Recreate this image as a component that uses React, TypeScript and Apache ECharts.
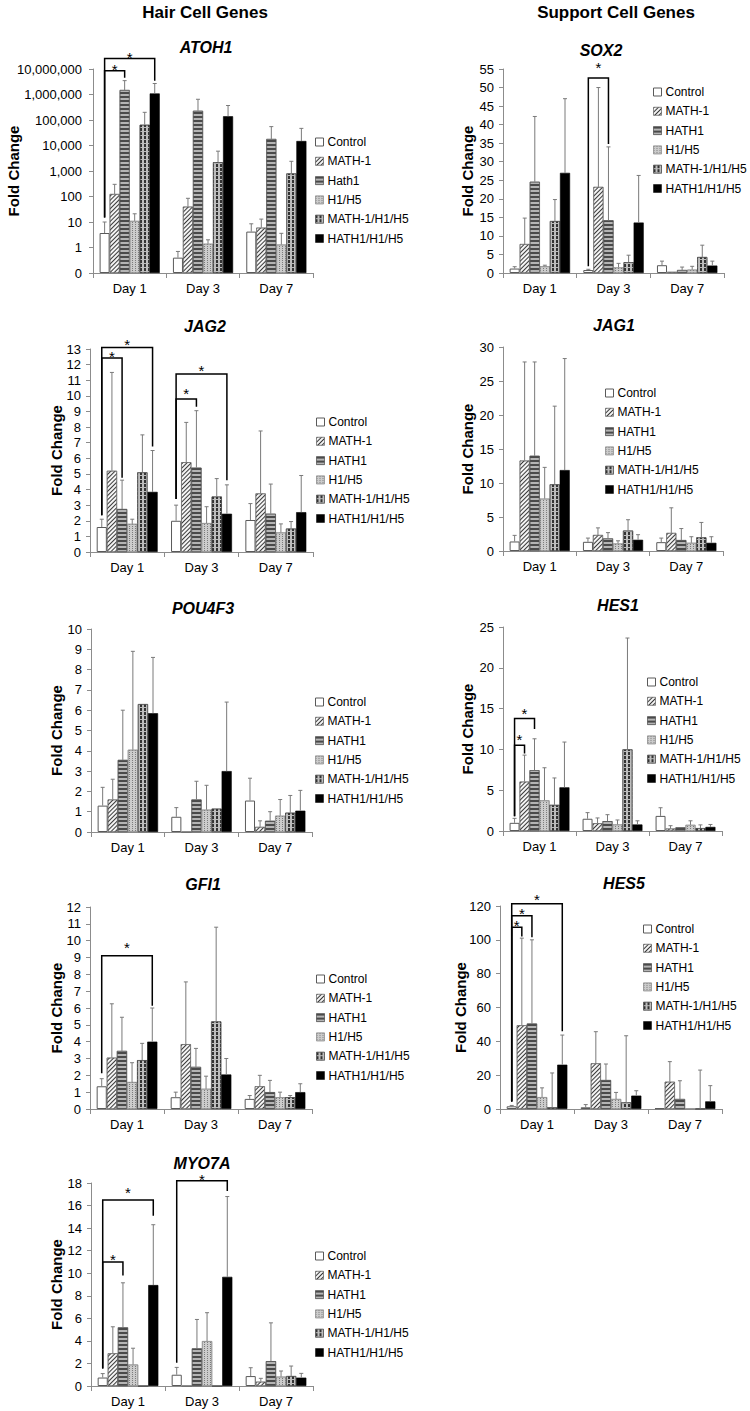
import React, { useEffect, useRef } from 'react';
import * as echarts from 'echarts';

const FONT = 'Liberation Sans, Arial, Helvetica, sans-serif';

const days = ['Day 1', 'Day 3', 'Day 7'];
const groups = ['Control', 'MATH-1', 'HATH1', 'H1/H5', 'MATH-1/H1/H5', 'HATH1/H1/H5'];
const atoh1Groups = ['Control', 'MATH-1', 'Hath1', 'H1/H5', 'MATH-1/H1/H5', 'HATH1/H1/H5'];
const columnTitles = ['Hair Cell Genes', 'Support Cell Genes'];
const yName = 'Fold Change';

// rows = groups (Control ... HATH1/H1/H5), columns = Day 1, Day 3, Day 7
const atoh1Mean = [
  [3.7, 0.4, 4.2],
  [125, 40, 6],
  [1500000, 230000, 18000],
  [11, 1.4, 1.3],
  [65000, 2200, 800],
  [1100000, 140000, 15000],
];
const atoh1Upper = [
  [10, 0.7, 8.5],
  [300, 85, 13],
  [3500000, 650000, 55000],
  [21, 2.0, 3.6],
  [200000, 6000, 2400],
  [2700000, 370000, 47000],
];
// [day, fromGroup, toGroup, bracketValue, leftLegEnd, rightLegEnd, starValue]
const atoh1Sig = [
  [0, 0, 2, 8600000, 15, 4500000, 13500000],
  [0, 0, 5, 26000000, 15, 3500000, 41000000],
];

const sox2Mean = [
  [1.2, 0.8, 2.1],
  [7.8, 23.2, 0.3],
  [24.6, 14.2, 0.8],
  [1.8, 1.5, 0.9],
  [14, 2.9, 4.3],
  [27, 13.6, 2.0],
];
const sox2Upper = [
  [1.7, 1.0, 3.2],
  [14.8, 50, 0.3],
  [42.2, 34, 1.6],
  [2.1, 2.6, 1.8],
  [19.8, 4.8, 7.5],
  [47, 26.3, 3.2],
];
const sox2Sig = [[1, 0, 2, 52.6, 1.8, 34.8, 56.5]];

const jag2Mean = [
  [1.6, 2.0, 2.05],
  [5.2, 5.75, 3.75],
  [2.75, 5.4, 2.45],
  [1.8, 1.85, 1.25],
  [5.1, 3.55, 1.5],
  [3.85, 2.45, 2.55],
];
const jag2Upper = [
  [2.1, 3.0, 3.1],
  [11.5, 8.3, 7.75],
  [4.6, 9.05, 4.35],
  [2.1, 2.9, 1.8],
  [7.5, 4.7, 1.95],
  [6.5, 4.3, 4.9],
];
const jag2Sig = [
  [0, 0, 2, 12.42, 2.35, 4.75, 12.8],
  [0, 0, 5, 13.1, 2.35, 6.75, 13.55],
  [1, 0, 2, 9.8, 3.4, 9.3, 10.4],
  [1, 0, 5, 11.4, 3.4, 4.6, 11.9],
];

const jag1Mean = [
  [1.4, 1.35, 1.3],
  [13.3, 2.35, 2.65],
  [14, 1.85, 1.6],
  [7.7, 1.1, 1.2],
  [9.8, 3.0, 2.0],
  [11.9, 1.65, 1.2],
];
const jag1Upper = [
  [2.3, 1.9, 1.9],
  [27.8, 3.4, 6.35],
  [27.8, 2.7, 3.3],
  [12.3, 1.5, 2.1],
  [21.3, 4.6, 4.2],
  [28.3, 2.4, 2.1],
];

const pou4f3Mean = [
  [1.3, 0.75, 1.55],
  [1.6, 0, 0.25],
  [3.55, 1.6, 0.55],
  [4.05, 1.1, 0.8],
  [6.3, 1.15, 0.95],
  [5.85, 3.0, 1.05],
];
const pou4f3Upper = [
  [2.2, 1.2, 2.65],
  [2.6, 0, 0.55],
  [6.0, 2.5, 1.0],
  [8.9, 2.3, 1.6],
  [6.3, 1.15, 1.8],
  [8.6, 6.4, 2.05],
];

const hes1Mean = [
  [1.0, 1.5, 1.85],
  [6.05, 0.95, 0.3],
  [7.45, 1.2, 0.45],
  [3.75, 0.8, 0.75],
  [3.2, 10, 0.35],
  [5.35, 0.8, 0.5],
];
const hes1Upper = [
  [1.55, 2.25, 2.85],
  [9.3, 1.6, 0.65],
  [11.3, 2.0, 0.45],
  [7.75, 1.35, 1.25],
  [6.5, 23.65, 0.75],
  [10.9, 1.25, 0.8],
];
const hes1Sig = [
  [0, 0, 1, 10.5, 1.8, 9.5, 11.7],
  [0, 0, 2, 13.8, 1.8, 12.5, 14.9],
];

const gfi1Mean = [
  [1.35, 0.7, 0.6],
  [3.05, 3.85, 1.35],
  [3.45, 2.5, 1.0],
  [1.6, 1.2, 0.7],
  [2.9, 5.2, 0.7],
  [4.0, 2.05, 1.0],
];
const gfi1Upper = [
  [1.8, 1.0, 0.8],
  [6.25, 7.55, 2.0],
  [5.45, 3.6, 1.7],
  [2.75, 1.95, 1.0],
  [3.9, 10.8, 0.8],
  [6.0, 3.0, 1.5],
];
const gfi1Sig = [[0, 0, 5, 9.1, 2.13, 6.14, 9.83]];

const hes5Mean = [
  [1.6, 1.0, 0.4],
  [49.5, 27, 16.1],
  [50.5, 17.1, 5.9],
  [7, 5.9, 0.2],
  [1.0, 3.9, 0.2],
  [26.2, 7.9, 4.5],
];
const hes5Upper = [
  [2.1, 2.6, 0.4],
  [101, 45.7, 28],
  [100, 26.6, 16.7],
  [12.5, 9.8, 0.2],
  [21.3, 43.3, 23],
  [43.7, 10.8, 13.8],
];
const hes5Sig = [
  [0, 0, 1, 107.5, 4.5, 102, 110.8],
  [0, 0, 2, 114.2, 4.5, 101.5, 117.7],
  [0, 0, 5, 121.3, 4.5, 45.9, 126],
];

const myo7aMean = [
  [0.75, 1.0, 0.88],
  [2.9, 0, 0.38],
  [5.2, 3.33, 2.2],
  [1.9, 3.98, 0.83],
  [0, 0, 0.88],
  [8.95, 9.68, 0.74],
];
const myo7aUpper = [
  [1.1, 1.65, 1.62],
  [5.25, 0, 0.68],
  [9.15, 5.9, 5.6],
  [3.35, 6.5, 1.33],
  [0, 0, 1.77],
  [14.3, 16.8, 1.12],
];
const myo7aSig = [
  [0, 0, 2, 11.0, 1.56, 9.8, 11.6],
  [0, 0, 5, 16.5, 1.56, 15.1, 17.5],
  [1, 0, 5, 18.2, 2.06, 17.3, 18.7],
];

type Panel = {
  gene: string;
  names: string[];
  mean: number[][];
  upper: number[][];
  sig: number[][];
  log?: boolean;
  max: number;
  interval: number;
  grid: { left: number; top: number; width: number; height: number };
  titlePos: [number, number];
  nameGap: number;
  labelMargin: number;
  legendPos: [number, number];
};

const panels: Panel[] = [
  { gene: 'ATOH1', names: atoh1Groups, mean: atoh1Mean, upper: atoh1Upper, sig: atoh1Sig, log: true, max: 10000000, interval: 1,
    grid: { left: 93, top: 69, width: 220, height: 204 }, titlePos: [206, 47], nameGap: 72, labelMargin: 11, legendPos: [315, 135] },
  { gene: 'SOX2', names: groups, mean: sox2Mean, upper: sox2Upper, sig: sox2Sig, max: 55, interval: 5,
    grid: { left: 503, top: 69, width: 221, height: 204 }, titlePos: [601, 50], nameGap: 28, labelMargin: 9, legendPos: [653, 85] },
  { gene: 'JAG2', names: groups, mean: jag2Mean, upper: jag2Upper, sig: jag2Sig, max: 13, interval: 1,
    grid: { left: 90, top: 349, width: 223, height: 203 }, titlePos: [205, 326], nameGap: 26, labelMargin: 9, legendPos: [316, 415] },
  { gene: 'JAG1', names: groups, mean: jag1Mean, upper: jag1Upper, sig: [], max: 30, interval: 5,
    grid: { left: 503, top: 347, width: 220, height: 204 }, titlePos: [614, 325], nameGap: 28, labelMargin: 9, legendPos: [605, 386] },
  { gene: 'POU4F3', names: groups, mean: pou4f3Mean, upper: pou4f3Upper, sig: [], max: 10, interval: 1,
    grid: { left: 91, top: 629, width: 221, height: 203 }, titlePos: [203, 608], nameGap: 27, labelMargin: 9, legendPos: [315, 695] },
  { gene: 'HES1', names: groups, mean: hes1Mean, upper: hes1Upper, sig: hes1Sig, max: 25, interval: 5,
    grid: { left: 503, top: 627, width: 219, height: 204 }, titlePos: [618, 605], nameGap: 28, labelMargin: 9, legendPos: [647, 675] },
  { gene: 'GFI1', names: groups, mean: gfi1Mean, upper: gfi1Upper, sig: gfi1Sig, max: 12, interval: 1,
    grid: { left: 90, top: 907, width: 222, height: 202 }, titlePos: [203, 884], nameGap: 26, labelMargin: 9, legendPos: [316, 972] },
  { gene: 'HES5', names: groups, mean: hes5Mean, upper: hes5Upper, sig: hes5Sig, max: 120, interval: 20,
    grid: { left: 500, top: 906, width: 222, height: 203 }, titlePos: [624, 883], nameGap: 32, labelMargin: 9, legendPos: [643, 922] },
  { gene: 'MYO7A', names: groups, mean: myo7aMean, upper: myo7aUpper, sig: myo7aSig, max: 18, interval: 2,
    grid: { left: 91, top: 1183, width: 222, height: 203 }, titlePos: [202, 1163], nameGap: 27, labelMargin: 9, legendPos: [315, 1249] },
];

const CAT_GAP = 0.18;
const N_GROUPS = 6;

const barStyles: any[] = [
  { color: '#ffffff', borderColor: '#5a5a5a', borderWidth: 1 },
  { color: '#f4f4f4', borderColor: '#6a6a6a', borderWidth: 0.6,
    decal: { symbol: 'rect', symbolSize: 1, color: '#3a3a3a', dashArrayX: [1, 0], dashArrayY: [1, 2], rotation: -Math.PI / 4 } },
  { color: '#b4b4b4', borderColor: '#555555', borderWidth: 0.6,
    decal: { symbol: 'rect', symbolSize: 1, color: '#4a4a4a', dashArrayX: [1, 0], dashArrayY: [2, 2] } },
  { color: '#cccccc', borderColor: '#8a8a8a', borderWidth: 0.6,
    decal: { symbol: 'rect', symbolSize: 1, color: '#7c7c7c', dashArrayX: [1, 2], dashArrayY: [1, 1] } },
  { color: '#bdbdbd', borderColor: '#4a4a4a', borderWidth: 0.6,
    decal: { symbol: 'rect', symbolSize: 1, color: '#333333', dashArrayX: [1.2, 1.3], dashArrayY: [3, 1] } },
  { color: '#000000', borderColor: '#000000', borderWidth: 0.6 },
];

function barX(api: any, cat: number, gi: number, v: number) {
  const c0 = api.coord([0, v]);
  const c1 = api.coord([1, v]);
  const band = c1[0] - c0[0];
  const groupW = band * (1 - CAT_GAP);
  const bw = groupW / N_GROUPS;
  const center = c0[0] + band * cat;
  return center - groupW / 2 + (gi + 0.5) * bw;
}

function renderErr(params: any, api: any) {
  const cat = api.value(0);
  const gi = api.value(1);
  const m = api.value(2);
  const up = api.value(3);
  if (!(up > m) || !(m > 0)) return { type: 'group', children: [] };
  const x = barX(api, cat, gi, m);
  const y0 = api.coord([cat, m])[1];
  const y1 = api.coord([cat, up])[1];
  const st = { stroke: '#7a7a7a', lineWidth: 1 };
  return {
    type: 'group',
    children: [
      { type: 'line', shape: { x1: x, y1: y0, x2: x, y2: y1 }, style: st },
      { type: 'line', shape: { x1: x - 2, y1: y1, x2: x + 2, y2: y1 }, style: st },
    ],
  };
}

function renderSig(params: any, api: any) {
  const cat = api.value(0);
  const g0 = api.value(1);
  const g1 = api.value(2);
  const lineV = api.value(3);
  const lb = api.value(4);
  const rb = api.value(5);
  const sv = api.value(6);
  const xl = barX(api, cat, g0, lineV);
  const xr = barX(api, cat, g1, lineV);
  const yl = api.coord([cat, lineV])[1];
  const ylb = api.coord([cat, lb])[1];
  const yrb = api.coord([cat, rb])[1];
  const ys = api.coord([cat, sv])[1];
  return {
    type: 'group',
    children: [
      { type: 'polyline', shape: { points: [[xl, ylb], [xl, yl], [xr, yl], [xr, yrb]] },
        style: { stroke: '#000000', lineWidth: 1.5, fill: 'none' } },
      { type: 'text', x: (xl + xr) / 2, y: ys + 4,
        style: { text: '*', fontSize: 15, fontFamily: FONT, fill: '#000000', align: 'center', verticalAlign: 'middle' } },
    ],
  };
}

function fmtLog(v: number) {
  if (v < 1) return '0';
  return Math.round(v).toString().replace(/\B(?=(\d{3})+(?!\d))/g, ',');
}

function buildOption() {
  const grid: any[] = [];
  const xAxis: any[] = [];
  const yAxis: any[] = [];
  const series: any[] = [];
  const legend: any[] = [];
  const graphic: any[] = [];
  const axisColor = '#8c8c8c';

  graphic.push({ type: 'text', x: 205, y: 12, style: { text: columnTitles[0], fontSize: 17, fontWeight: 'bold', fontFamily: FONT, fill: '#000', align: 'center', verticalAlign: 'middle' } });
  graphic.push({ type: 'text', x: 616, y: 12, style: { text: columnTitles[1], fontSize: 17, fontWeight: 'bold', fontFamily: FONT, fill: '#000', align: 'center', verticalAlign: 'middle' } });

  const order = [1, 0, 2, 3, 4, 5, 6, 7, 8];
  panels.forEach((p, k) => {
    grid.push({ ...p.grid, containLabel: false, outerBoundsMode: 'none' });
    xAxis.push({
      gridIndex: k, type: 'category', data: days,
      axisLine: { show: true, onZero: false, lineStyle: { color: axisColor, width: 1 } },
      axisTick: { show: true, length: 5, lineStyle: { color: axisColor } },
      axisLabel: { color: '#000', fontSize: 13, fontFamily: FONT, margin: 9 },
      splitLine: { show: false },
    });
    const y: any = {
      gridIndex: k,
      name: yName, nameLocation: 'middle', nameGap: p.nameGap, nameRotate: 90, nameMoveOverlap: false,
      nameTextStyle: { fontSize: 15, fontWeight: 'bold', fontFamily: FONT, color: '#000' },
      axisLine: { show: true, lineStyle: { color: axisColor, width: 1 } },
      axisTick: { show: true, length: 4, lineStyle: { color: axisColor } },
      axisLabel: { color: '#000', fontSize: 13, fontFamily: FONT, margin: p.labelMargin },
      splitLine: { show: false },
      max: p.max,
    };
    if (p.log) {
      y.type = 'log';
      y.logBase = 10;
      y.min = 0.1;
      y.startValue = 0.1;
      y.splitNumber = 8;
      y.axisLabel.formatter = (v: number) => fmtLog(v);
    } else {
      y.type = 'value';
      y.min = 0;
      y.interval = p.interval;
    }
    yAxis.push(y);

    graphic.push({ type: 'text', x: p.titlePos[0], y: p.titlePos[1],
      style: { text: p.gene, fontSize: 16, fontWeight: 'bold', fontStyle: 'italic', fontFamily: FONT, fill: '#000', align: 'center', verticalAlign: 'middle' } });

    legend.push({
      show: true, orient: 'vertical', left: p.legendPos[0], top: p.legendPos[1], padding: 0,
      itemWidth: 8, itemHeight: 8, itemGap: 5.3, selectedMode: false, icon: 'rect',
      textStyle: { fontSize: 12, fontFamily: FONT, color: '#000', lineHeight: 14, padding: [0, 0, 0, -1] },
      data: p.names.map((n, i) => ({ name: n, itemStyle: { borderColor: barStyles[i].borderColor, borderWidth: i === 0 ? 1 : 0.5 } })),
    });
  });

  order.forEach((k) => {
    const p = panels[k];
    p.names.forEach((n, i) => {
      series.push({
        type: 'bar', name: n, xAxisIndex: k, yAxisIndex: k,
        data: p.mean[i], barGap: '0%', barCategoryGap: (CAT_GAP * 100) + '%',
        itemStyle: barStyles[i], silent: true, emphasis: { disabled: true },
      });
    });
  });

  panels.forEach((p, k) => {
    const errData: number[][] = [];
    p.mean.forEach((row, gi) => row.forEach((m, d) => errData.push([d, gi, m, p.upper[gi][d]])));
    series.push({
      type: 'custom', name: p.gene + ' SD', xAxisIndex: k, yAxisIndex: k, data: errData,
      renderItem: renderErr, encode: { x: 0, y: 3 }, clip: false, silent: true, z: 3,
      itemStyle: { color: '#7a7a7a' },
    });
    if (p.sig.length) {
      series.push({
        type: 'custom', name: p.gene + ' significance', xAxisIndex: k, yAxisIndex: k, data: p.sig,
        renderItem: renderSig, encode: { x: 0, y: 3 }, clip: false, silent: true, z: 4,
        itemStyle: { color: '#000000' },
      });
    }
  });

  return {
    animation: false,
    backgroundColor: '#ffffff',
    textStyle: { fontFamily: FONT },
    grid, xAxis, yAxis, series, legend, graphic,
  };
}

export default function App() {
  const ref = useRef<HTMLDivElement>(null);
  useEffect(() => {
    if (!ref.current) return;
    const chart = echarts.init(ref.current, undefined, { renderer: 'svg' });
    chart.setOption(buildOption() as any);
    return () => chart.dispose();
  }, []);
  return (
    <div style={{ position: 'absolute', left: 0, top: 0, width: 750, height: 1411, background: '#fff' }}>
      <div ref={ref} style={{ width: 750, height: 1411 }} />
    </div>
  );
}
